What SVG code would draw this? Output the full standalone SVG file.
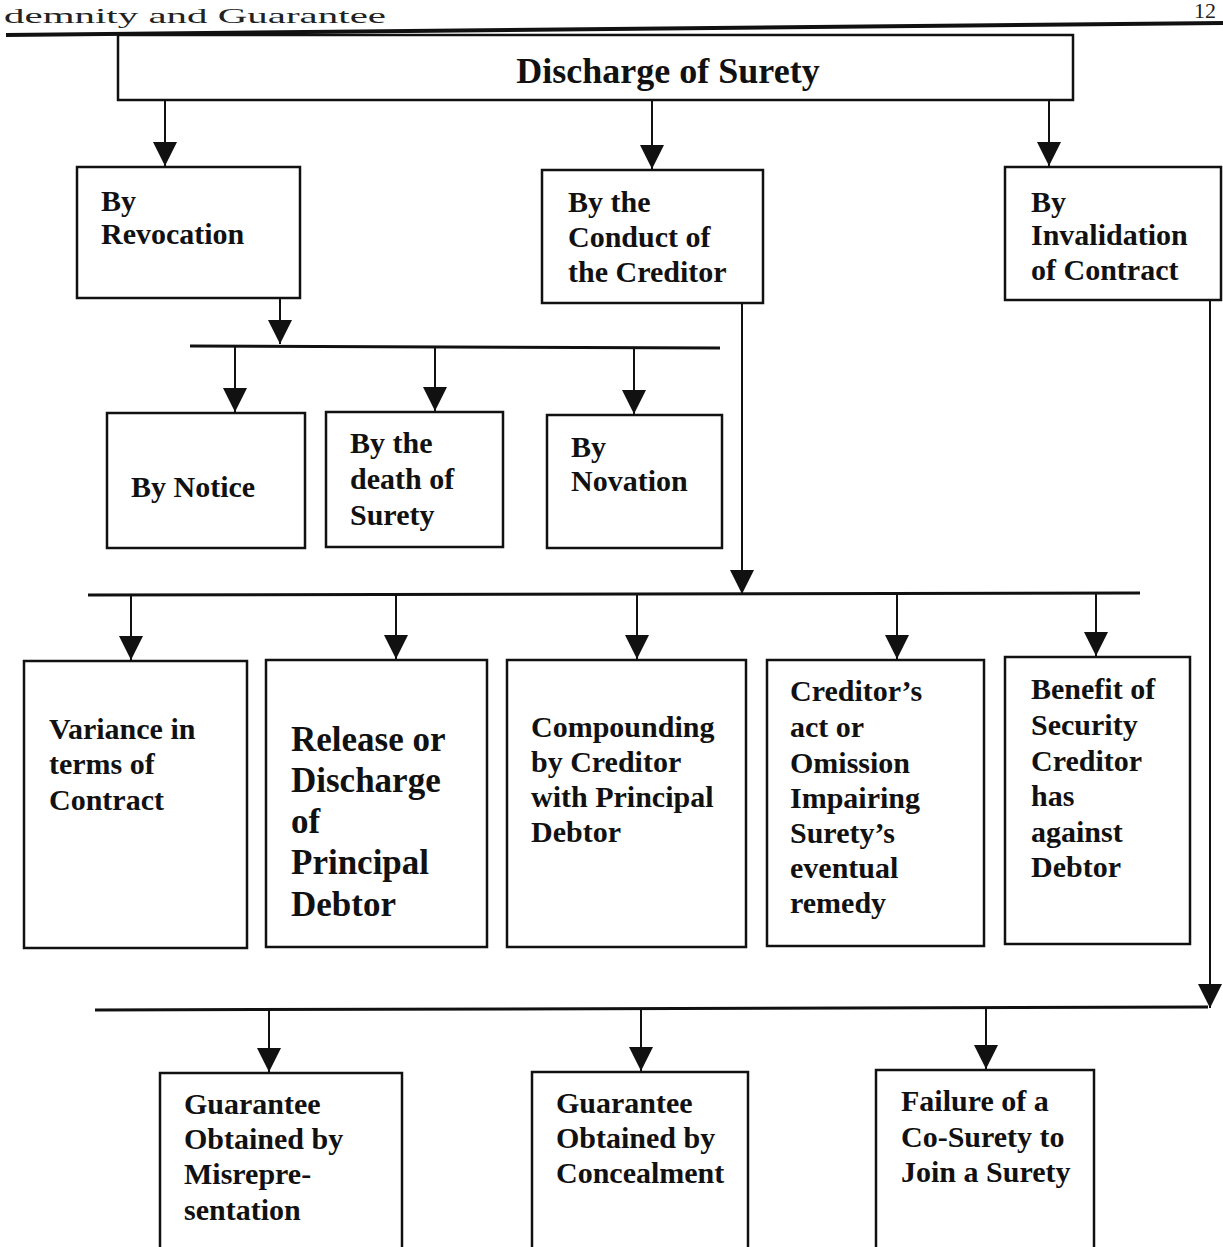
<svg xmlns="http://www.w3.org/2000/svg" width="1223" height="1247" viewBox="0 0 1223 1247">
<style>
.box{fill:#fff;stroke:#111;stroke-width:2.5}
.t{font-family:"Liberation Serif","Times New Roman",serif;font-weight:bold;font-size:30px;fill:#111}
.big{font-size:35px}
.title{font-size:36px}
.hdr{font-family:"Liberation Serif","Times New Roman",serif;font-size:22px;fill:#222}
.c{stroke:#111;stroke-width:2;fill:none}
.bus{stroke:#111;stroke-width:3;fill:none}
</style>
<defs>
<marker id="ah" markerUnits="userSpaceOnUse" markerWidth="24" markerHeight="24" viewBox="0 0 22 22" refX="22" refY="11" orient="auto">
<path d="M0,0 L22,11 L0,22 z" fill="#111"/>
</marker>
</defs>
<rect width="1223" height="1247" fill="#fff"/>
<text class="hdr" x="4" y="23" textLength="382" lengthAdjust="spacingAndGlyphs">demnity and Guarantee</text>
<text class="hdr" x="1216" y="18" font-size="16" text-anchor="end">12</text>
<line x1="6" y1="35" x2="1223" y2="23" stroke="#111" stroke-width="4"/>

<g id="connectors">
<line class="c" x1="165" y1="100" x2="165" y2="166" marker-end="url(#ah)"/>
<line class="c" x1="652" y1="100" x2="652" y2="169" marker-end="url(#ah)"/>
<line class="c" x1="1049" y1="100" x2="1049" y2="166" marker-end="url(#ah)"/>
<line class="c" x1="280" y1="298" x2="280" y2="344" marker-end="url(#ah)"/>
<line class="bus" x1="190" y1="346" x2="720" y2="348"/>
<line class="c" x1="235" y1="346" x2="235" y2="412" marker-end="url(#ah)"/>
<line class="c" x1="435" y1="347" x2="435" y2="411" marker-end="url(#ah)"/>
<line class="c" x1="634" y1="348" x2="634" y2="414" marker-end="url(#ah)"/>
<line class="c" x1="742" y1="303" x2="742" y2="594" marker-end="url(#ah)"/>
<line class="bus" x1="88" y1="595" x2="1140" y2="593"/>
<line class="c" x1="131" y1="595" x2="131" y2="660" marker-end="url(#ah)"/>
<line class="c" x1="396" y1="595" x2="396" y2="659" marker-end="url(#ah)"/>
<line class="c" x1="637" y1="594" x2="637" y2="659" marker-end="url(#ah)"/>
<line class="c" x1="897" y1="594" x2="897" y2="659" marker-end="url(#ah)"/>
<line class="c" x1="1096" y1="594" x2="1096" y2="656" marker-end="url(#ah)"/>
<line class="c" x1="1210" y1="300" x2="1210" y2="1008" marker-end="url(#ah)"/>
<line class="bus" x1="95" y1="1010" x2="1208" y2="1007"/>
<line class="c" x1="269" y1="1010" x2="269" y2="1072" marker-end="url(#ah)"/>
<line class="c" x1="641" y1="1009" x2="641" y2="1071" marker-end="url(#ah)"/>
<line class="c" x1="986" y1="1008" x2="986" y2="1069" marker-end="url(#ah)"/>
</g>

<g id="n-title">
<rect class="box" x="118" y="35" width="955" height="65" stroke-width="3"/>
<text class="t title" x="668" y="83" text-anchor="middle">Discharge of Surety</text>
</g>
<g id="n-revocation">
<rect class="box" x="77" y="167" width="223" height="131"/>
<text class="t" x="101" y="211">By</text>
<text class="t" x="101" y="244">Revocation</text>
</g>
<g id="n-conduct">
<rect class="box" x="542" y="170" width="221" height="133"/>
<text class="t" x="568" y="212">By the</text>
<text class="t" x="568" y="247">Conduct of</text>
<text class="t" x="568" y="282">the Creditor</text>
</g>
<g id="n-invalidation">
<rect class="box" x="1005" y="167" width="216" height="133"/>
<text class="t" x="1031" y="212">By</text>
<text class="t" x="1031" y="245">Invalidation</text>
<text class="t" x="1031" y="280">of Contract</text>
</g>
<g id="n-notice">
<rect class="box" x="107" y="413" width="198" height="135"/>
<text class="t" x="131" y="497">By Notice</text>
</g>
<g id="n-death">
<rect class="box" x="326" y="412" width="177" height="135"/>
<text class="t" x="350" y="453">By the</text>
<text class="t" x="350" y="489">death of</text>
<text class="t" x="350" y="525">Surety</text>
</g>
<g id="n-novation">
<rect class="box" x="547" y="415" width="175" height="133"/>
<text class="t" x="571" y="457">By</text>
<text class="t" x="571" y="491">Novation</text>
</g>
<g id="n-variance">
<rect class="box" x="24" y="661" width="223" height="287"/>
<text class="t" x="49" y="739">Variance in</text>
<text class="t" x="49" y="774">terms of</text>
<text class="t" x="49" y="810">Contract</text>
</g>
<g id="n-release">
<rect class="box" x="266" y="660" width="221" height="287"/>
<text class="t big" x="291" y="751">Release or</text>
<text class="t big" x="291" y="792">Discharge</text>
<text class="t big" x="291" y="833">of</text>
<text class="t big" x="291" y="874">Principal</text>
<text class="t big" x="291" y="916">Debtor</text>
</g>
<g id="n-compounding">
<rect class="box" x="507" y="660" width="239" height="287"/>
<text class="t" x="531" y="737">Compounding</text>
<text class="t" x="531" y="772">by Creditor</text>
<text class="t" x="531" y="807">with Principal</text>
<text class="t" x="531" y="842">Debtor</text>
</g>
<g id="n-creditors-act">
<rect class="box" x="767" y="660" width="217" height="286"/>
<text class="t" x="790" y="701">Creditor’s</text>
<text class="t" x="790" y="737">act or</text>
<text class="t" x="790" y="773">Omission</text>
<text class="t" x="790" y="808">Impairing</text>
<text class="t" x="790" y="843">Surety’s</text>
<text class="t" x="790" y="878">eventual</text>
<text class="t" x="790" y="913">remedy</text>
</g>
<g id="n-benefit">
<rect class="box" x="1005" y="657" width="185" height="287"/>
<text class="t" x="1031" y="699">Benefit of</text>
<text class="t" x="1031" y="735">Security</text>
<text class="t" x="1031" y="771">Creditor</text>
<text class="t" x="1031" y="806">has</text>
<text class="t" x="1031" y="842">against</text>
<text class="t" x="1031" y="877">Debtor</text>
</g>
<g id="n-misrep">
<rect class="box" x="160" y="1073" width="242" height="180"/>
<text class="t" x="184" y="1114">Guarantee</text>
<text class="t" x="184" y="1149">Obtained by</text>
<text class="t" x="184" y="1184">Misrepre-</text>
<text class="t" x="184" y="1220">sentation</text>
</g>
<g id="n-concealment">
<rect class="box" x="532" y="1072" width="216" height="181"/>
<text class="t" x="556" y="1113">Guarantee</text>
<text class="t" x="556" y="1148">Obtained by</text>
<text class="t" x="556" y="1183">Concealment</text>
</g>
<g id="n-cosurety">
<rect class="box" x="876" y="1070" width="218" height="183"/>
<text class="t" x="901" y="1111">Failure of a</text>
<text class="t" x="901" y="1147">Co-Surety to</text>
<text class="t" x="901" y="1182">Join a Surety</text>
</g>
</svg>
